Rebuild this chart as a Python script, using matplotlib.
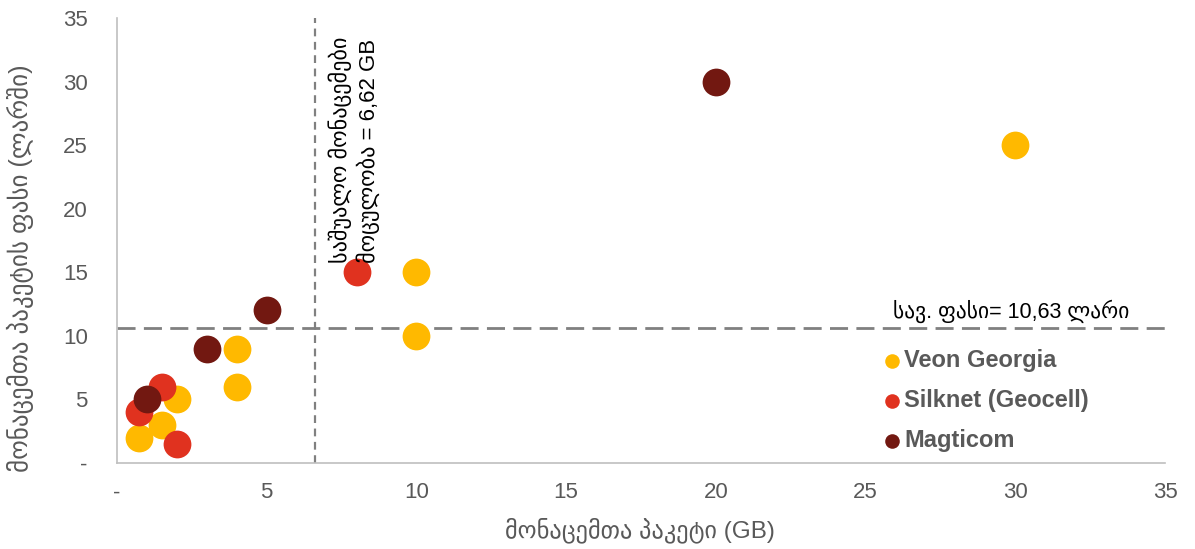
import matplotlib.pyplot as plt
from matplotlib.ticker import FuncFormatter

plt.rcParams['font.family'] = ['Liberation Sans', 'DejaVu Sans']

# packages: data volume (GB) vs monthly price (GEL)
veon_gb = [0.75, 1.5, 2, 4, 4, 10, 10, 30]
veon_price = [2, 3, 5, 6, 9, 10, 15, 25]
silknet_gb = [0.75, 1.5, 2, 8]
silknet_price = [4, 6, 1.5, 15]
magti_gb = [1, 3, 5, 20]
magti_price = [5, 9, 12, 30]

avg_gb = 6.62
avg_price = 10.63

series = [
    ("Veon Georgia", veon_gb, veon_price, "#FFB900"),
    ("Silknet (Geocell)", silknet_gb, silknet_price, "#E0321F"),
    ("Magticom", magti_gb, magti_price, "#721811"),
]

fig = plt.figure(figsize=(11.95, 5.49), dpi=100)
ax = fig.add_axes([117 / 1195, 1 - 463 / 549, 1048 / 1195, 445 / 549])

for name, xs, ys, col in series:
    ax.scatter(xs, ys, s=400, color=col, label=name, linewidths=0, zorder=3)

ax.axhline(avg_price, color="#808080", lw=2, dashes=(6.5, 3), zorder=2)
ax.axvline(avg_gb, color="#808080", lw=1.6, dashes=(3.5, 2.5), zorder=2)

ax.text(7.05, 15.7, "საშუალო მონაცემები\nმოცულობა = 6,62 GB", rotation=90,
        ha="left", va="bottom", multialignment="left", fontsize=16,
        color="black", linespacing=1.25)
ax.text(25.9, 11.0, "სავ. ფასი= 10,63 ლარი", ha="left", va="bottom",
        fontsize=15.5, color="black")

ax.set_xlim(0, 35)
ax.set_ylim(0, 35)
ax.set_xticks(range(0, 36, 5))
ax.set_yticks(range(0, 36, 5))
dash_zero = FuncFormatter(lambda v, p: "-" if v == 0 else f"{v:g}")
ax.xaxis.set_major_formatter(dash_zero)
ax.yaxis.set_major_formatter(dash_zero)
ax.tick_params(axis="both", length=0, labelsize=16, labelcolor="#595959")
ax.tick_params(axis="y", pad=21)
ax.tick_params(axis="x", pad=14)

for side in ["top", "right"]:
    ax.spines[side].set_visible(False)
for side in ["left", "bottom"]:
    ax.spines[side].set_color("#BFBFBF")
    ax.spines[side].set_linewidth(1.2)

fig.text(640 / 1195, 1 - 530 / 549, "მონაცემთა პაკეტი (GB)", ha="center",
         va="center", fontsize=17.5, color="#595959")
fig.text(20 / 1195, 1 - 268 / 549, "მონაცემთა პაკეტის ფასი (ლარში)",
         rotation=90, ha="center", va="center", fontsize=18, color="#595959")

leg = ax.legend(loc="upper left", bbox_to_anchor=(871 / 1195, 1 - 340 / 549),
                bbox_transform=fig.transFigure, frameon=False,
                handletextpad=0.0, labelspacing=0.72, borderaxespad=0,
                handlelength=1.0, prop={"size": 17, "weight": "bold"})
for h in leg.legend_handles:
    h.set_sizes([110])
for t in leg.get_texts():
    t.set_color("#595959")

fig.savefig("out.png", dpi=100)
